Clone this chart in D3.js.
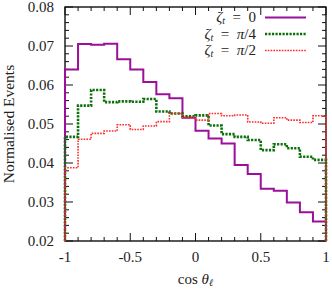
<!DOCTYPE html>
<html>
<head>
<meta charset="utf-8">
<script src="https://cdn.jsdelivr.net/npm/d3@7"></script>
<style>
	body { margin: 0; background: #fff; }
	svg { display: block; }
	text { font-family: 'Liberation Serif', 'DejaVu Serif', serif; fill: #222; }
</style>
</head>
<body>
<div id="content"></div>
<script>
// bin edges in cos(theta_l)
let binEdges = [-1, -0.9, -0.8, -0.7, -0.6, -0.5, -0.4, -0.3, -0.2, -0.1, 0, 0.1, 0.2, 0.3, 0.4, 0.5, 0.6, 0.7, 0.8, 0.9, 1]

// normalised events per bin
let zeta0 = [0.0640, 0.0705, 0.0703, 0.0706, 0.0666, 0.0640, 0.0608, 0.0576, 0.0566, 0.0516, 0.0483, 0.0463, 0.0450, 0.0395, 0.0372, 0.0334, 0.0329, 0.0299, 0.0274, 0.0250]
let zetaPi4 = [0.0467, 0.0547, 0.0587, 0.0556, 0.0558, 0.0557, 0.0564, 0.0532, 0.0527, 0.0520, 0.0522, 0.0496, 0.0474, 0.0467, 0.0459, 0.0433, 0.0448, 0.0438, 0.0416, 0.0408]
let zetaPi2 = [0.0388, 0.0461, 0.0476, 0.0482, 0.0498, 0.0486, 0.0495, 0.0506, 0.0527, 0.0517, 0.0510, 0.0527, 0.0521, 0.0523, 0.0505, 0.0502, 0.0516, 0.0510, 0.0504, 0.0521]

let xTicks = [-1, -0.5, 0, 0.5, 1]
let xTickLabels = ['-1', '-0.5', '0', '0.5', '1']
let yTicks = [0.02, 0.03, 0.04, 0.05, 0.06, 0.07, 0.08]
let yTickLabels = ['0.02', '0.03', '0.04', '0.05', '0.06', '0.07', '0.08']

let series = [
	{ values: zeta0, label: '0', color: '#9a109a', width: 2, dash: null },
	{ values: zetaPi4, label: 'π/4', color: '#0a700a', width: 2.6, dash: '2.2,1.3' },
	{ values: zetaPi2, label: 'π/2', color: '#ff2a2a', width: 1.6, dash: '1.6,1.2' },
]

let WIDTH = 332
let HEIGHT = 289
let margin = { left: 65, right: 6, top: 7, bottom: 48 }
let MAJOR = 8
let MINOR = 4

let svg = d3.select('#content').append('svg')
	.attr('width', WIDTH)
	.attr('height', HEIGHT)

let x = d3.scaleLinear().domain([-1, 1]).range([margin.left, WIDTH - margin.right])
let y = d3.scaleLinear().domain([0.02, 0.08]).range([HEIGHT - margin.bottom, margin.top])

let [x0, x1] = x.range()
let [y0, y1] = y.range()

// frame
svg.append('rect')
	.attr('x', x0)
	.attr('y', y1)
	.attr('width', x1 - x0)
	.attr('height', y0 - y1)
	.attr('fill', 'none')
	.attr('stroke', '#111')
	.attr('stroke-width', 1.4)

// ticks, inward on all four sides
let ticks = svg.append('g').attr('stroke', '#111').attr('stroke-width', 1)

let isMajor = (v, list) => { return list.some((t) => { return Math.abs(t - v) < 1e-9 }) }

x.ticks(20).forEach((v) => {
	let len = isMajor(v, xTicks) ? MAJOR : MINOR
	ticks.append('line').attr('x1', x(v)).attr('x2', x(v)).attr('y1', y0).attr('y2', y0 - len)
	ticks.append('line').attr('x1', x(v)).attr('x2', x(v)).attr('y1', y1).attr('y2', y1 + len)
})

y.ticks(30).forEach((v) => {
	let len = isMajor(v, yTicks) ? MAJOR : MINOR
	ticks.append('line').attr('y1', y(v)).attr('y2', y(v)).attr('x1', x0).attr('x2', x0 + len)
	ticks.append('line').attr('y1', y(v)).attr('y2', y(v)).attr('x1', x1).attr('x2', x1 - len)
})

// tick labels
svg.append('g').selectAll('text')
	.data(xTicks)
	.enter().append('text')
		.attr('x', (d) => { return x(d) })
		.attr('y', y0 + 21)
		.attr('text-anchor', 'middle')
		.attr('font-size', 15)
		.text((d, i) => { return xTickLabels[i] })

svg.append('g').selectAll('text')
	.data(yTicks)
	.enter().append('text')
		.attr('x', x0 - 11)
		.attr('y', (d) => { return y(d) })
		.attr('dy', '0.35em')
		.attr('text-anchor', 'end')
		.attr('font-size', 15)
		.text((d, i) => { return yTickLabels[i] })

// axis titles
let xTitle = svg.append('text')
	.attr('x', x(0))
	.attr('y', HEIGHT - 5)
	.attr('text-anchor', 'middle')
	.attr('font-size', 15)
xTitle.append('tspan').text('cos ')
xTitle.append('tspan').attr('font-style', 'italic').text('θ')
xTitle.append('tspan').attr('font-style', 'italic').attr('font-size', 10).attr('dy', 2).text('ℓ')

svg.append('text')
	.attr('transform', `translate(14, ${(y0 + y1) / 2}) rotate(-90)`)
	.attr('text-anchor', 'middle')
	.attr('font-size', 15.5)
	.text('Normalised Events')

// histograms, drawn as outlines down to the baseline at both ends
function outline(values) {
	let points = [[binEdges[0], 0.02]]
	values.forEach((v, i) => {
		points.push([binEdges[i], v])
		points.push([binEdges[i + 1], v])
	})
	points.push([binEdges[binEdges.length - 1], 0.02])
	return points
}

let line = d3.line()
	.x((d) => { return x(d[0]) })
	.y((d) => { return y(d[1]) })

svg.append('g').selectAll('path')
	.data(series)
	.enter().append('path')
		.attr('d', (d) => { return line(outline(d.values)) })
		.attr('fill', 'none')
		.attr('stroke', (d) => { return d.color })
		.attr('stroke-width', (d) => { return d.width })
		.attr('stroke-dasharray', (d) => { return d.dash })

// legend
let legend = svg.append('g')
series.forEach((s, i) => {
	let ly = 17.5 + i * 16.5
	let t = legend.append('text')
		.attr('x', 256)
		.attr('y', ly)
		.attr('dy', '0.3em')
		.attr('text-anchor', 'end')
		.attr('font-size', 15)
	t.append('tspan').attr('font-style', 'italic').text('ζ')
	t.append('tspan').attr('font-style', 'italic').attr('font-size', 10).attr('dy', 2).text('t')
	t.append('tspan').attr('dy', -2).text('\u2002=\u2002')
	if (s.label === '0') {
		t.append('tspan').text('0')
	} else {
		t.append('tspan').attr('font-style', 'italic').text('π')
		t.append('tspan').text(s.label.slice(1))
	}
	legend.append('line')
		.attr('x1', 265)
		.attr('x2', 306)
		.attr('y1', ly)
		.attr('y2', ly)
		.attr('stroke', s.color)
		.attr('stroke-width', s.width)
		.attr('stroke-dasharray', s.dash)
})
</script>
</body>
</html>
